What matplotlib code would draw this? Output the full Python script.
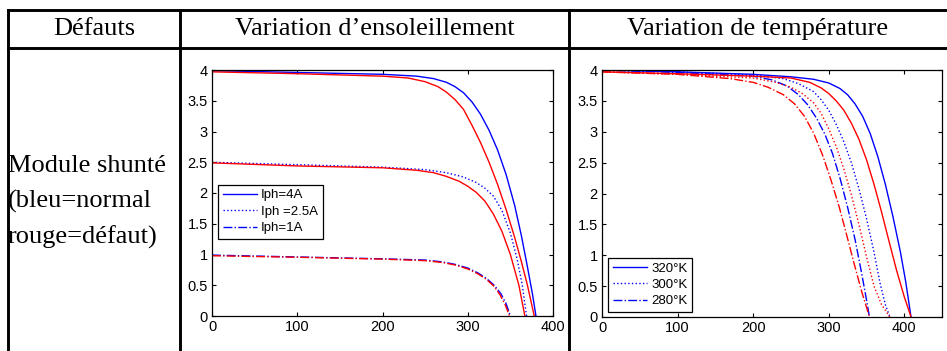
import matplotlib
matplotlib.use('Agg')
import matplotlib.pyplot as plt
from matplotlib.lines import Line2D

# --- donnees ---
# Variation d'ensoleillement (courbes I-V)
v_4a_normal = [0, 100, 200, 240, 260, 275, 285, 295, 305, 315, 325, 335, 345, 355, 363, 370, 376, 380]
i_4a_normal = [3.99, 3.96, 3.93, 3.9, 3.86, 3.8, 3.73, 3.63, 3.48, 3.28, 3.02, 2.7, 2.3, 1.8, 1.3, 0.8, 0.35, 0.0]
v_4a_defaut = [0, 100, 200, 230, 250, 265, 275, 285, 295, 305, 315, 325, 335, 345, 355, 363, 370, 378]
i_4a_defaut = [3.97, 3.94, 3.9, 3.87, 3.81, 3.73, 3.64, 3.52, 3.36, 3.1, 2.82, 2.5, 2.14, 1.73, 1.28, 0.88, 0.5, 0.0]
v_25a_normal = [0, 100, 200, 250, 275, 295, 310, 320, 330, 340, 350, 358, 364, 369]
i_25a_normal = [2.5, 2.46, 2.42, 2.38, 2.33, 2.26, 2.17, 2.08, 1.95, 1.72, 1.35, 0.92, 0.5, 0.0]
v_25a_defaut = [0, 100, 200, 240, 260, 275, 290, 300, 310, 320, 330, 340, 350, 360, 367]
i_25a_defaut = [2.49, 2.44, 2.41, 2.37, 2.33, 2.27, 2.19, 2.11, 2.01, 1.87, 1.66, 1.38, 1.0, 0.5, 0.0]
v_1a_normal = [0, 100, 200, 250, 270, 285, 300, 312, 322, 331, 339, 345, 350]
i_1a_normal = [0.99, 0.96, 0.93, 0.91, 0.88, 0.84, 0.78, 0.7, 0.61, 0.5, 0.36, 0.2, 0.0]
v_1a_defaut = [0, 100, 200, 250, 270, 285, 300, 312, 322, 331, 338, 344, 349]
i_1a_defaut = [0.98, 0.955, 0.925, 0.9, 0.87, 0.83, 0.765, 0.685, 0.595, 0.48, 0.34, 0.18, 0.0]

# Variation de temperature
v_320_normal = [0, 100, 200, 250, 280, 300, 315, 325, 335, 345, 355, 365, 375, 385, 395, 402, 409]
i_320_normal = [4.0, 3.97, 3.93, 3.89, 3.85, 3.79, 3.7, 3.6, 3.45, 3.25, 2.97, 2.6, 2.15, 1.63, 1.05, 0.57, 0.0]
v_320_defaut = [0, 100, 200, 250, 275, 290, 300, 310, 320, 330, 340, 350, 360, 370, 380, 390, 400, 409]
i_320_defaut = [3.97, 3.94, 3.9, 3.87, 3.8, 3.71, 3.62, 3.5, 3.35, 3.14, 2.88, 2.55, 2.15, 1.7, 1.22, 0.75, 0.33, 0.0]
v_300_normal = [0, 100, 200, 240, 260, 280, 290, 300, 310, 320, 330, 340, 350, 360, 368, 375, 381]
i_300_normal = [4.0, 3.97, 3.92, 3.86, 3.78, 3.65, 3.52, 3.35, 3.12, 2.84, 2.5, 2.08, 1.6, 1.05, 0.55, 0.2, 0.0]
v_300_defaut = [0, 100, 200, 230, 250, 265, 280, 290, 300, 310, 320, 330, 340, 350, 360, 370, 381]
i_300_defaut = [3.97, 3.93, 3.87, 3.8, 3.72, 3.62, 3.47, 3.3, 3.05, 2.76, 2.4, 1.98, 1.5, 0.98, 0.5, 0.2, 0.0]
v_280_normal = [0, 100, 200, 225, 245, 260, 272, 284, 295, 305, 315, 325, 335, 343, 349, 354]
i_280_normal = [4.0, 3.96, 3.9, 3.84, 3.74, 3.6, 3.44, 3.22, 2.96, 2.65, 2.25, 1.78, 1.25, 0.75, 0.35, 0.0]
v_280_defaut = [0, 100, 170, 200, 220, 240, 255, 268, 280, 292, 303, 314, 324, 334, 344, 354]
i_280_defaut = [3.97, 3.93, 3.86, 3.8, 3.72, 3.6, 3.45, 3.25, 2.98, 2.62, 2.22, 1.78, 1.32, 0.85, 0.4, 0.0]

x_ticks = [0, 100, 200, 300, 400]
y_ticks = [0, 0.5, 1, 1.5, 2, 2.5, 3, 3.5, 4]
y_labels = ['0', '0.5', '1', '1.5', '2', '2.5', '3', '3.5', '4']

entetes = ['Défauts', 'Variation d\u2019ensoleillement', 'Variation de température']
lignes_defaut = ['Module shunté', '(bleu=normal', 'rouge=défaut)']
legende_soleil = ['Iph=4A', 'Iph =2.5A', 'Iph=1A']
legende_temp = ['320°K', '300°K', '280°K']

W, H = 947, 351
fig = plt.figure(figsize=(W / 100, H / 100), dpi=100)


def fx(px):
    return px / W


def fy(py):
    return 1 - py / H


# tableau
lw_tab = 2.1
for y in [10, 48]:
    fig.add_artist(Line2D([fx(8), fx(947)], [fy(y), fy(y)], color='black', lw=lw_tab,
                          solid_capstyle='projecting'))
for x in [8, 180, 569]:
    fig.add_artist(Line2D([fx(x), fx(x)], [fy(10), fy(351)], color='black', lw=lw_tab,
                          solid_capstyle='projecting'))

serif = 'Liberation Serif'
fs = 19
fig.text(fx(94), fy(29), entetes[0], ha='center', va='center', family=serif, fontsize=fs)
fig.text(fx(375), fy(29), entetes[1], ha='center', va='center', family=serif, fontsize=fs)
fig.text(fx(758), fy(29), entetes[2], ha='center', va='center', family=serif, fontsize=fs)
for k, t in enumerate(lignes_defaut):
    fig.text(fx(8), fy(172 + 36 * k), t, ha='left', va='baseline', family=serif, fontsize=fs)


def style_axes(ax, xmax):
    ax.set_xlim(0, xmax)
    ax.set_ylim(0, 4)
    ax.set_xticks(x_ticks)
    ax.set_yticks(y_ticks)
    ax.set_yticklabels(y_labels)
    ax.tick_params(direction='in', top=True, right=True, length=3, width=0.8,
                   labelsize=10.5, pad=3)
    for lab in ax.get_xticklabels() + ax.get_yticklabels():
        lab.set_family('Liberation Sans')
    for s in ax.spines.values():
        s.set_linewidth(0.9)
        s.set_color('black')


leg_kw = dict(loc='lower left', frameon=True, fancybox=False, framealpha=1, edgecolor='black',
              borderaxespad=0, borderpad=0.35, labelspacing=0.32, handlelength=2.6,
              handletextpad=0.3, prop={'family': 'Liberation Sans', 'size': 9.5})

# ensoleillement
ax1 = fig.add_axes([fx(212), fy(316), (553 - 212) / W, (316 - 70) / H])
b1, = ax1.plot(v_4a_normal, i_4a_normal, color='blue', lw=1, ls='-')
b2, = ax1.plot(v_25a_normal, i_25a_normal, color='blue', lw=1, ls=':')
b3, = ax1.plot(v_1a_normal, i_1a_normal, color='blue', lw=1, ls='-.')
ax1.plot(v_4a_defaut, i_4a_defaut, color='red', lw=1, ls='-')
ax1.plot(v_25a_defaut, i_25a_defaut, color='red', lw=1, ls='-')
ax1.plot(v_1a_defaut, i_1a_defaut, color='red', lw=1, ls='-.')
style_axes(ax1, 400)
lg1 = ax1.legend([b1, b2, b3], legende_soleil, bbox_to_anchor=(0.018, 0.313), **leg_kw)
lg1.get_frame().set_linewidth(0.9)

# temperature
ax2 = fig.add_axes([fx(602), fy(317), (942 - 602) / W, (317 - 70) / H])
c1, = ax2.plot(v_320_normal, i_320_normal, color='blue', lw=1, ls='-')
c2, = ax2.plot(v_300_normal, i_300_normal, color='blue', lw=1, ls=':')
c3, = ax2.plot(v_280_normal, i_280_normal, color='blue', lw=1, ls='-.')
ax2.plot(v_320_defaut, i_320_defaut, color='red', lw=1, ls='-')
ax2.plot(v_300_defaut, i_300_defaut, color='red', lw=1, ls=':')
ax2.plot(v_280_defaut, i_280_defaut, color='red', lw=1, ls='-.')
style_axes(ax2, 450)
lg2 = ax2.legend([c1, c2, c3], legende_temp, bbox_to_anchor=(0.018, 0.02), **leg_kw)
lg2.get_frame().set_linewidth(0.9)

fig.savefig('out.png', dpi=100)
